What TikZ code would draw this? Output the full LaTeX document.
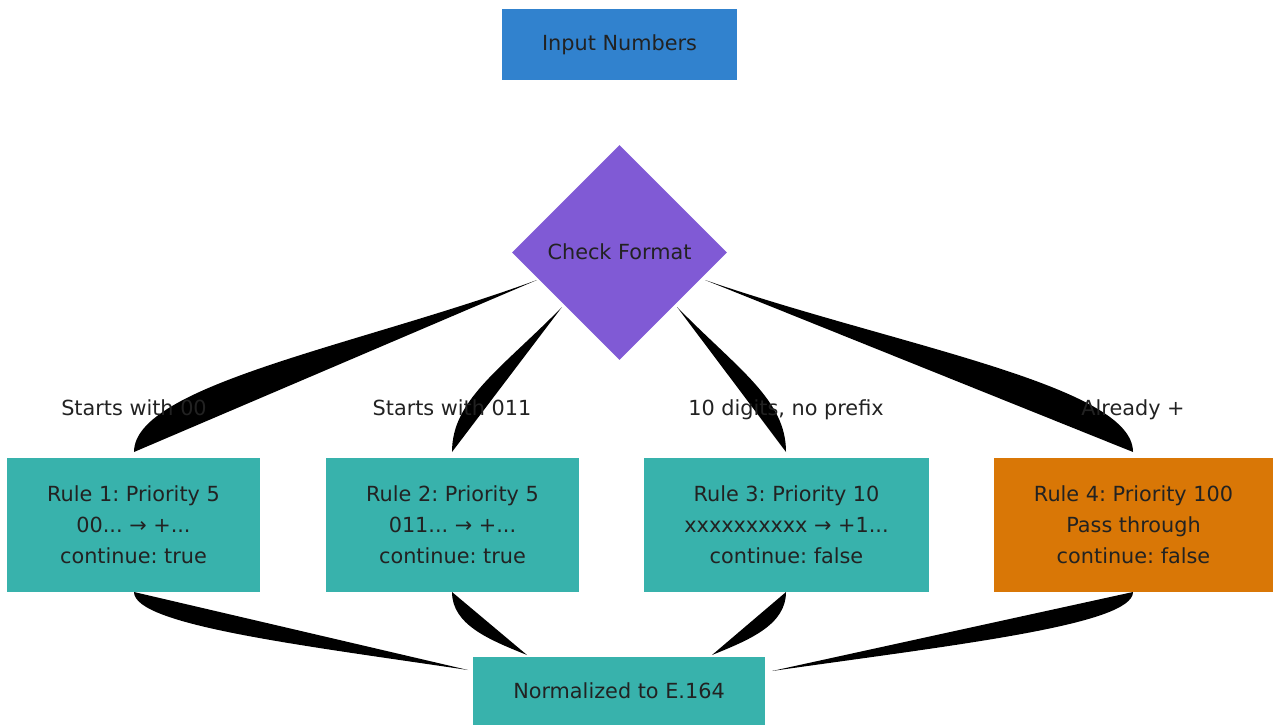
\documentclass[tikz,border=0pt]{standalone}
\usepackage{fontspec}
\setmainfont{DejaVu Sans}
\usetikzlibrary{shapes.geometric}
\frenchspacing
\definecolor{cblue}{HTML}{3182CE}
\definecolor{cpurple}{HTML}{805AD5}
\definecolor{cteal}{HTML}{38B2AC}
\definecolor{corange}{HTML}{D97706}
\definecolor{ctext}{HTML}{222222}
\tikzset{
  box/.style={rectangle, inner sep=0pt, draw=none, text=ctext, align=center,
    font=\fontsize{20.8pt}{31pt}\selectfont\frenchspacing},
  lbl/.style={inner sep=0pt, anchor=base, text=ctext, font=\fontsize{20.8pt}{25pt}\selectfont\frenchspacing},
  edgefill/.style={fill=black, draw=none}
}
\begin{document}
\begin{tikzpicture}[x=1pt,y=-1pt]
\useasboundingbox (0,0) rectangle (1273,725);
% nodes
\node[box, fill=cblue, minimum width=235pt, minimum height=71pt] (input) at (619.5,44.5) {Input Numbers};
\node[box, fill=cpurple, shape=diamond, minimum width=215pt, minimum height=215pt] (check) at (619.5,252.5) {};
\node[box] (checklbl) at (619.5,252) {Check Format};
\node[box, fill=cteal, minimum width=253pt, minimum height=134pt] (r1) at (133.5,525) {Rule 1: Priority 5\\00... → +...\\continue: true};
\node[box, fill=cteal, minimum width=253pt, minimum height=134pt] (r2) at (452.5,525) {Rule 2: Priority 5\\011... → +...\\continue: true};
\node[box, fill=cteal, minimum width=285pt, minimum height=134pt] (r3) at (786.5,525) {Rule 3: Priority 10\\xxxxxxxxxx → +1...\\continue: false};
\node[box, fill=corange, minimum width=279pt, minimum height=134pt] (r4) at (1133.5,525) {Rule 4: Priority 100\\Pass through\\continue: false};
\node[box, fill=cteal, minimum width=292pt, minimum height=68pt] (norm) at (619,691) {Normalized to E.164};
% edge endpoints
\coordinate (c1) at (537,280);
\coordinate (c2) at (562,307);
\coordinate (c3) at (677,307);
\coordinate (c4) at (705,280);
\coordinate (t1) at (134,452);
\coordinate (t2) at (452,452);
\coordinate (t3) at (786,452);
\coordinate (t4) at (1133,452);
\coordinate (b1) at (134,592);
\coordinate (b2) at (452,592);
\coordinate (b3) at (786,592);
\coordinate (b4) at (1133,592);
\coordinate (n1) at (468,670);
\coordinate (n2) at (527,655);
\coordinate (n3) at (712,655);
\coordinate (n4) at (772,671);
% filled connectors
\fill[edgefill] (c1) .. controls (360,345) and (134,385) .. (t1) -- cycle;
\fill[edgefill] (c2) .. controls (500,370) and (452,400) .. (t2) -- cycle;
\fill[edgefill] (c3) .. controls (739,370) and (786,400) .. (t3) -- cycle;
\fill[edgefill] (c4) .. controls (893,345) and (1133,385) .. (t4) -- cycle;
\fill[edgefill] (b1) .. controls (134,625) and (300,645) .. (n1) -- cycle;
\fill[edgefill] (b2) .. controls (452,625) and (490,640) .. (n2) -- cycle;
\fill[edgefill] (b3) .. controls (786,625) and (749,640) .. (n3) -- cycle;
\fill[edgefill] (b4) .. controls (1133,625) and (954,645) .. (n4) -- cycle;
% edge labels
\node[lbl] (l1) at (134,415.5) {Starts with 00};
\node[lbl] (l2) at (452,415.5) {Starts with 011};
\node[lbl] (l3) at (786,415.5) {10 digits, no prefix};
\node[lbl] (l4) at (1133,415.5) {Already +};
\end{tikzpicture}
\end{document}
